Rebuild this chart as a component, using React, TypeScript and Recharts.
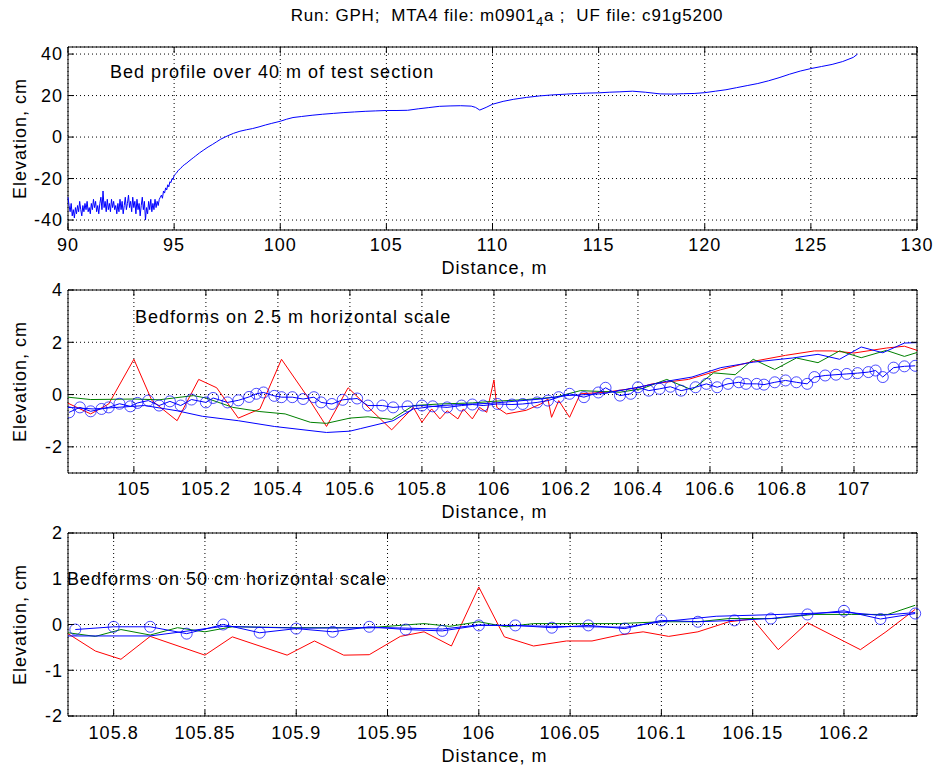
import React from 'react';
import { LineChart, Line, XAxis, YAxis, CartesianGrid, ReferenceArea } from 'recharts';

const FONT = "'Liberation Sans', Arial, Helvetica, sans-serif";

// ---------- Panel 1: bed profile over 40 m ----------
const profileX = [
  90.0, 90.05, 90.1, 90.15, 90.2, 90.25, 90.3, 90.35, 90.4, 90.45, 90.5, 90.55, 90.6, 90.65, 90.7, 90.75, 90.8, 90.85, 90.9, 90.95,
  91.0, 91.05, 91.1, 91.15, 91.2, 91.25, 91.3, 91.35, 91.4, 91.45, 91.5, 91.55, 91.6, 91.65, 91.7, 91.75, 91.8, 91.85, 91.9, 91.95,
  92.0, 92.05, 92.1, 92.15, 92.2, 92.25, 92.3, 92.35, 92.4, 92.45, 92.5, 92.55, 92.6, 92.65, 92.7, 92.75, 92.8, 92.85, 92.9, 92.95,
  93.0, 93.05, 93.1, 93.15, 93.2, 93.25, 93.3, 93.35, 93.4, 93.45, 93.5, 93.55, 93.6, 93.65, 93.7, 93.75, 93.8, 93.85, 93.9, 93.95,
  94.0, 94.05, 94.1, 94.15, 94.2, 94.25, 94.3, 94.35, 94.4, 94.45, 94.5, 94.55, 94.6, 94.65, 94.7, 94.75, 94.8, 94.85, 94.9, 94.95,
  95.0, 95.1, 95.2, 95.3, 95.4, 95.5, 95.6, 95.7, 95.8, 95.9, 96.0, 96.2, 96.4, 96.6, 96.8, 97.0, 97.2, 97.5, 97.8, 98.1,
  98.4, 98.7, 99.0, 99.3, 99.6, 100.0, 100.3, 100.6, 101.0, 101.5, 102.0, 102.5, 103.0, 103.5, 104.0, 104.5, 105.0, 105.5, 106.0, 106.5,
  107.0, 107.5, 108.0, 108.5, 109.0, 109.2, 109.4, 109.7, 110.0, 110.5, 111.0, 111.6, 112.2, 112.8, 113.5, 114.0, 114.5, 115.0, 115.5, 116.0,
  116.6, 117.2, 117.9, 118.5, 119.0, 119.5, 120.0, 120.5, 121.0, 121.5, 122.0, 122.5, 123.0, 123.5, 124.0, 124.5, 125.0, 125.5, 126.0, 126.5,
  127.0, 127.2,
];
const profileY = [
  -29, -33, -36, -32, -38, -35, -39, -34, -37, -33, -36, -31, -35, -38, -33, -36, -32, -35, -31, -36,
  -34, -37, -32, -35, -30, -34, -31, -36, -33, -37, -32, -29, -35, -26, -34, -31, -36, -30, -35, -32,
  -36, -30, -34, -31, -35, -33, -37, -32, -36, -30, -35, -31, -37, -33, -29, -35, -32, -28, -34, -31,
  -36, -29, -34, -31, -37, -30, -35, -32, -38, -33, -29, -35, -31, -40, -34, -37, -31, -35, -30, -36,
  -32, -35, -30, -34, -31, -33, -30, -29, -28, -29.5, -26, -27, -24.5, -25.5, -23, -24, -21.5, -22, -20, -20.5,
  -18.5, -17.5, -16, -15.2, -14, -13.2, -12.5, -11.6, -10.8, -10, -9.2, -7.6, -6.2, -4.8, -3.6, -2.3, -1.0, 0.5, 1.8, 2.8,
  3.5, 4.1, 4.9, 5.8, 6.6, 7.6, 8.6, 9.4, 9.9, 10.5, 11.0, 11.4, 11.8, 12.1, 12.4, 12.6, 12.8, 12.8, 12.9, 13.6,
  14.2, 14.8, 15.0, 15.1, 14.9, 14.3, 13.0, 14.3, 15.8, 17.2, 18.2, 19.1, 19.8, 20.3, 20.7, 21.0, 21.2, 21.3, 21.6, 21.8,
  22.1, 21.6, 20.8, 20.7, 20.9, 21.0, 21.4, 22.1, 22.8, 23.8, 24.8, 25.8, 27.1, 28.6, 30.3, 31.8, 33.0, 34.0, 35.0, 36.4,
  38.4, 40.0,
];
const p1XTicks = [90, 95, 100, 105, 110, 115, 120, 125, 130];
const p1YTicks = [-40, -20, 0, 20, 40];

// ---------- Panel 2: bedforms on 2.5 m scale ----------
const midRed = [
  [104.817, -0.33], [104.88, -0.74], [104.93, -0.36], [105.0, 1.35], [105.05, -0.23], [105.12, -1.0], [105.18, 0.58],
  [105.23, 0.26], [105.29, -0.9], [105.35, -0.55], [105.41, 1.35], [105.48, -0.04], [105.535, -1.22], [105.595, 0.26],
  [105.716, -1.35], [105.776, -0.49], [105.8, -1.06], [105.827, -0.55], [105.85, -0.93], [105.87, -0.62], [105.9, -0.93],
  [105.915, -0.55], [105.94, -0.93], [105.96, -0.49], [105.98, -0.68], [106.0, 0.56], [106.008, -0.49], [106.035, -0.74],
  [106.09, -0.6], [106.13, -0.36], [106.15, -0.17], [106.16, -0.87], [106.18, -0.23], [106.21, -0.87], [106.24, 0.03],
  [106.31, 0.09], [106.4, 0.26], [106.44, 0.41], [106.54, 0.58], [106.63, 0.95], [106.72, 1.27], [106.81, 1.5],
  [106.89, 1.67], [106.94, 1.67], [107.0, 1.59], [107.09, 1.78], [107.14, 1.85], [107.18, 1.67],
];
const midGreen = [
  [104.817, -0.1], [104.88, -0.19], [105.0, -0.17], [105.07, -0.2], [105.165, -0.04], [105.2, -0.13], [105.275, -0.49],
  [105.35, -0.65], [105.42, -0.74], [105.49, -1.06], [105.535, -1.1], [105.6, -0.9], [105.65, -0.85], [105.716, -0.95],
  [105.776, -0.42], [105.85, -0.36], [105.94, -0.32], [105.995, -0.26], [106.09, -0.19], [106.17, -0.1], [106.24, 0.15],
  [106.35, 0.09], [106.41, 0.22], [106.48, 0.58], [106.55, 0.18], [106.61, 0.83], [106.67, 0.76], [106.72, 1.35],
  [106.78, 0.96], [106.84, 1.4], [106.9, 1.22], [106.96, 1.67], [107.02, 1.41], [107.09, 1.69], [107.14, 1.46], [107.18, 1.63],
];
const midBlue = [
  [104.817, -0.49], [104.887, -0.55], [105.03, -0.42], [105.12, -0.62], [105.19, -0.83], [105.29, -1.0], [105.39, -1.22],
  [105.535, -1.45], [105.6, -1.4], [105.63, -1.3], [105.72, -1.0], [105.776, -0.55], [105.85, -0.42], [105.995, -0.33],
  [106.13, -0.17], [106.2, -0.04], [106.3, 0.03], [106.4, 0.28], [106.48, 0.51], [106.55, 0.67], [106.63, 1.03],
  [106.72, 1.24], [106.83, 1.4], [106.9, 1.54], [106.96, 1.35], [107.02, 1.82], [107.08, 1.6], [107.14, 1.97], [107.18, 1.99],
];
const midCircles = [
  [104.82, -0.68], [104.85, -0.49], [104.88, -0.64], [104.91, -0.55], [104.93, -0.49], [104.96, -0.35], [104.99, -0.45],
  [105.01, -0.32], [105.04, -0.23], [105.07, -0.42], [105.1, -0.26], [105.13, -0.42], [105.16, -0.19], [105.2, -0.3],
  [105.22, -0.13], [105.26, -0.3], [105.29, -0.22], [105.32, -0.09], [105.34, 0.03], [105.36, 0.08], [105.39, -0.05],
  [105.41, -0.1], [105.44, -0.1], [105.47, -0.17], [105.5, -0.1], [105.52, -0.3], [105.55, -0.36], [105.58, -0.2],
  [105.62, -0.15], [105.65, -0.42], [105.69, -0.42], [105.72, -0.49], [105.76, -0.45], [105.8, -0.42], [105.83, -0.45],
  [105.87, -0.49], [105.91, -0.42], [105.94, -0.38], [105.97, -0.42], [106.01, -0.36], [106.05, -0.38], [106.08, -0.36],
  [106.12, -0.3], [106.15, -0.23], [106.18, -0.1], [106.21, 0.03], [106.25, -0.1], [106.29, 0.08], [106.31, 0.26],
  [106.35, -0.04], [106.38, 0.03], [106.4, 0.28], [106.43, 0.15], [106.46, 0.22], [106.49, 0.3], [106.52, 0.15],
  [106.56, 0.28], [106.59, 0.41], [106.62, 0.28], [106.65, 0.41], [106.68, 0.47], [106.7, 0.41], [106.73, 0.41],
  [106.75, 0.38], [106.78, 0.47], [106.81, 0.54], [106.84, 0.47], [106.87, 0.41], [106.89, 0.67], [106.92, 0.73],
  [106.95, 0.76], [106.98, 0.79], [107.01, 0.82], [107.04, 0.86], [107.06, 0.92], [107.08, 0.67], [107.11, 1.03],
  [107.14, 1.08], [107.17, 1.1],
];
const p2XTicks = [105, 105.2, 105.4, 105.6, 105.8, 106, 106.2, 106.4, 106.6, 106.8, 107];
const p2YTicks = [-2, 0, 2, 4];

// ---------- Panel 3: bedforms on 50 cm scale ----------
const botRed = [
  [105.775, -0.2], [105.79, -0.58], [105.804, -0.76], [105.82, -0.26], [105.85, -0.67], [105.865, -0.27], [105.895, -0.67],
  [105.91, -0.36], [105.926, -0.67], [105.94, -0.66], [105.957, -0.26], [105.97, -0.16], [105.985, -0.47], [106.0, 0.82],
  [106.014, -0.27], [106.03, -0.47], [106.048, -0.36], [106.062, -0.36], [106.077, -0.23], [106.09, -0.16], [106.104, -0.26],
  [106.12, -0.16], [106.137, 0.06], [106.15, 0.12], [106.164, -0.55], [106.18, 0.04], [106.209, -0.55], [106.223, -0.16],
  [106.239, 0.33],
];
const botGreen = [
  [105.775, -0.18], [105.79, -0.26], [105.804, -0.11], [105.82, -0.23], [105.835, -0.07], [105.85, -0.16], [105.865, -0.05],
  [105.9, -0.07], [105.94, -0.07], [105.97, 0.02], [105.984, -0.04], [106.0, 0.06], [106.015, -0.05], [106.03, 0.02],
  [106.077, 0.02], [106.1, 0.06], [106.12, 0.06], [106.137, 0.13], [106.162, 0.13], [106.183, 0.22], [106.204, 0.22],
  [106.224, 0.22], [106.239, 0.42],
];
const botBlue = [
  [105.775, -0.25], [105.82, -0.25], [105.86, -0.04], [105.9, -0.08], [105.95, -0.07], [105.98, -0.1], [106.0, -0.01],
  [106.04, -0.04], [106.08, -0.06], [106.1, 0.06], [106.13, 0.18], [106.165, 0.22], [106.2, 0.27], [106.22, 0.2], [106.239, 0.26],
];
const botCircles = [
  [105.779, -0.11], [105.8, -0.05], [105.82, -0.05], [105.84, -0.2], [105.86, 0.0], [105.88, -0.18], [105.9, -0.09],
  [105.92, -0.16], [105.94, -0.05], [105.96, -0.11], [105.98, -0.14], [106.0, -0.02], [106.02, -0.02], [106.04, -0.07],
  [106.06, -0.02], [106.08, -0.09], [106.1, 0.09], [106.12, 0.06], [106.14, 0.09], [106.16, 0.13], [106.18, 0.22],
  [106.2, 0.3], [106.22, 0.12], [106.239, 0.24],
];
const p3XTicks = [105.8, 105.85, 105.9, 105.95, 106, 106.05, 106.1, 106.15, 106.2];
const p3YTicks = [-2, -1, 0, 1, 2];

const titleA = 'Run: GPH;  MTA4 file: m0901';
const titleSub = '4';
const titleB = 'a ;  UF file: c91g5200';

type Pt = { d: number; v: number };
const pairs = (arr: number[][]): Pt[] => arr.map(([d, v]) => ({ d, v }));
const zipXY = (xs: number[], ys: number[]): Pt[] => xs.map((d, i) => ({ d, v: ys[i] }));

const RED = '#ff0000';
const GREEN = '#008000';
const BLUE = '#0000ff';

const PLOT_LEFT = 68;
const PLOT_RIGHT = 917;
const W = 934;

type Series = { name: string; data: Pt[]; color: string; circles?: boolean };

interface PanelProps {
  top: number;
  height: number;
  plotTop: number;
  axisH: number;
  xDomain: [number, number];
  yDomain: [number, number];
  xTicks: number[];
  yTicks: number[];
  series: Series[];
  note: string;
  noteDx: number;
  noteDy: number;
  tickGap: number;
  labelGap: number;
  clipX?: boolean;
}

const textStyle = { fontFamily: FONT, fontSize: 18, letterSpacing: 1, fill: '#000' } as const;

function Panel(p: PanelProps) {
  const plotBottom = p.height - p.axisH;
  const midY = (p.plotTop + plotBottom) / 2;
  const XTick = (props: any) => {
    const { x, y, payload } = props;
    return (
      <g>
        <line x1={x} x2={x} y1={y} y2={y - 6} stroke="#000" strokeWidth={1} />
        <line x1={x} x2={x} y1={p.plotTop} y2={p.plotTop + 6} stroke="#000" strokeWidth={1} />
        <text x={x} y={y + p.tickGap} dy="0.35em" textAnchor="middle" style={textStyle}>
          {String(payload.value)}
        </text>
      </g>
    );
  };
  const YTick = (props: any) => {
    const { x, y, payload } = props;
    return (
      <g>
        <line x1={x} x2={x + 6} y1={y} y2={y} stroke="#000" strokeWidth={1} />
        <line x1={PLOT_RIGHT} x2={PLOT_RIGHT - 6} y1={y} y2={y} stroke="#000" strokeWidth={1} />
        <text x={x - 5} y={y} dy="0.35em" textAnchor="end" style={textStyle}>
          {String(payload.value)}
        </text>
      </g>
    );
  };
  return (
    <div style={{ position: 'absolute', left: 0, top: p.top, width: W, height: p.height }}>
      <LineChart
        width={W}
        height={p.height}
        margin={{ top: p.plotTop, right: W - PLOT_RIGHT, bottom: 0, left: 8 }}
      >
        <CartesianGrid stroke="#000" strokeDasharray="1 3" strokeWidth={1} />
        <XAxis
          dataKey="d"
          type="number"
          domain={p.xDomain}
          ticks={p.xTicks}
          interval={0}
          allowDataOverflow={!!p.clipX}
          height={p.axisH}
          tickSize={0}
          tickMargin={0}
          tickLine={false}
          axisLine={false}
          tick={XTick}
          label={() => (
            <text
              x={(PLOT_LEFT + PLOT_RIGHT) / 2 + 2}
              y={plotBottom + p.labelGap}
              dy="0.35em"
              textAnchor="middle"
              style={textStyle}
            >
              Distance, m
            </text>
          )}
        />
        <YAxis
          dataKey="v"
          type="number"
          domain={p.yDomain}
          ticks={p.yTicks}
          interval={0}
          allowDataOverflow
          width={PLOT_LEFT - 8}
          tickSize={0}
          tickMargin={0}
          tickLine={false}
          axisLine={false}
          tick={YTick}
          label={() => (
            <text
              x={20}
              y={midY}
              dy="0.35em"
              textAnchor="middle"
              transform={`rotate(-90 20 ${midY})`}
              style={textStyle}
            >
              Elevation, cm
            </text>
          )}
        />
        {p.series.map((s) => (
          <Line
            key={s.name}
            name={s.name}
            data={s.data}
            dataKey="v"
            type="linear"
            stroke={s.color}
            strokeWidth={1}
            dot={s.circles ? { r: 5.5, stroke: BLUE, strokeWidth: 1, fill: 'none', strokeOpacity: 0.7 } : false}
            activeDot={false}
            isAnimationActive={false}
          />
        ))}
        <ReferenceArea
          x1={p.xDomain[0]}
          x2={p.xDomain[1]}
          y1={p.yDomain[0]}
          y2={p.yDomain[1]}
          fill="none"
          fillOpacity={0}
          stroke="#000"
          strokeWidth={1}
          ifOverflow="visible"
          label={(lp: any) => {
            const vb = lp.viewBox || { x: PLOT_LEFT, y: p.plotTop };
            return (
              <text x={vb.x + p.noteDx} y={vb.y + p.noteDy} dy="0.35em" style={textStyle}>
                {p.note}
              </text>
            );
          }}
        />
      </LineChart>
    </div>
  );
}

export default function App() {
  return (
    <div
      style={{
        position: 'absolute',
        left: 0,
        top: 0,
        width: W,
        height: 769,
        background: '#fff',
        fontFamily: FONT,
        overflow: 'hidden',
      }}
    >
      <div
        style={{
          position: 'absolute',
          left: 207,
          top: 6,
          width: 600,
          textAlign: 'center',
          fontSize: 17,
          letterSpacing: 0.8,
          whiteSpace: 'pre',
          color: '#000',
          lineHeight: '20px',
        }}
      >
        {titleA}
        <span style={{ fontSize: 13, position: 'relative', top: 5 }}>{titleSub}</span>
        {titleB}
      </div>
      <Panel
        top={0}
        height={280}
        plotTop={47}
        axisH={50}
        xDomain={[90, 130]}
        yDomain={[-44.8, 43.4]}
        xTicks={p1XTicks}
        yTicks={p1YTicks}
        series={[{ name: 'profile', data: zipXY(profileX, profileY), color: BLUE }]}
        note="Bed profile over 40 m of test section"
        noteDx={42}
        noteDy={25}
        tickGap={15}
        labelGap={38}
      />
      <Panel
        top={280}
        height={252}
        plotTop={10}
        axisH={59}
        xDomain={[104.817, 107.175]}
        yDomain={[-3, 4]}
        xTicks={p2XTicks}
        yTicks={p2YTicks}
        clipX
        series={[
          { name: 'red', data: pairs(midRed), color: RED },
          { name: 'green', data: pairs(midGreen), color: GREEN },
          { name: 'blue', data: pairs(midBlue), color: BLUE },
          { name: 'circles', data: pairs(midCircles), color: BLUE, circles: true },
        ]}
        note="Bedforms on 2.5 m horizontal scale"
        noteDx={67}
        noteDy={27}
        tickGap={16}
        labelGap={39}
      />
      <Panel
        top={520}
        height={249}
        plotTop={13}
        axisH={53}
        xDomain={[105.775, 106.24]}
        yDomain={[-2, 2]}
        xTicks={p3XTicks}
        yTicks={p3YTicks}
        series={[
          { name: 'red', data: pairs(botRed), color: RED },
          { name: 'green', data: pairs(botGreen), color: GREEN },
          { name: 'blue', data: pairs(botBlue), color: BLUE },
          { name: 'circles', data: pairs(botCircles), color: BLUE, circles: true },
        ]}
        note="Bedforms on 50 cm horizontal scale"
        noteDx={-1}
        noteDy={46}
        tickGap={17}
        labelGap={40}
      />
    </div>
  );
}
